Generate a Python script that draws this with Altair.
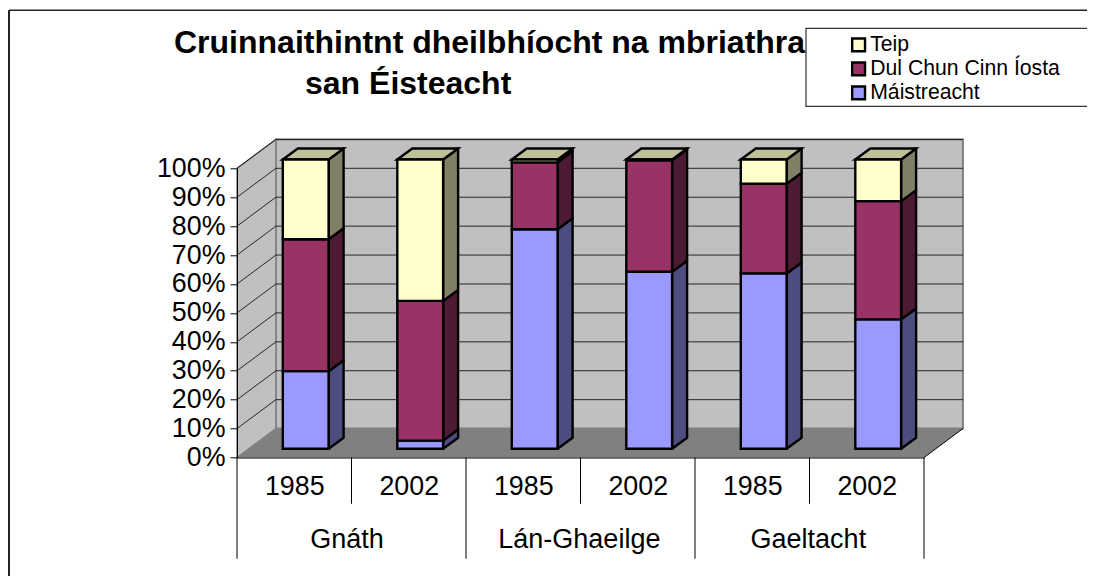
import altair as alt
import pandas as pd

FONT = "Liberation Sans"
series = ["Teip", "Dul Chun Cinn Íosta", "Máistreacht"]
front_colors = ["#FFFFCC", "#993366", "#9999FF"]
side_colors = {"Teip": "#808066", "Dul Chun Cinn Íosta": "#4D1A33", "Máistreacht": "#4D4D80"}
top_color = "#C0C099"

years = ["1985", "2002", "1985", "2002", "1985", "2002"]
groups = ["Gnáth", "Lán-Ghaeilge", "Gaeltacht"]
# cumulative upper boundaries of each stacked segment, in percent
mastery_top = [26.8, 2.8, 75.9, 61.2, 60.6, 44.7]
progress_top = [72.4, 51.1, 99.0, 99.7, 91.6, 85.6]
fail_top = [100, 100, 100, 100, 100, 100]
title_lines = ["Cruinnaithintnt dheilbhíocht na mbriathra", "san Éisteacht"]

W, H = 687, 289.2
DX, DY = 0.34, 10          # wall depth in axis units
BDX, BDY = 0.131, 3.8      # bar depth in axis units
BASE = 3.05                # bars stand this far back on the floor
BL, BW = 0.40, 0.40        # bar left edge inside a category and bar width
EDGE = 2.4

xs = alt.Scale(domain=[0, 6], nice=False, zero=False)
ys = alt.Scale(domain=[0, 100], nice=False, zero=False)
x_axis = alt.Axis(
    values=[0.5, 1.5, 2.5, 3.5, 4.5, 5.5],
    labelExpr="(datum.value * 2) % 4 == 1 ? '" + years[0] + "' : '" + years[1] + "'",
    ticks=False, grid=False, labelFont=FONT, labelFontSize=26.8, labelColor="#000000",
    labelPadding=16, domainColor="#000000", domainWidth=1, labelFlush=False, labelOverlap=False,
    title=None, zindex=1,
)
y_axis = alt.Axis(
    values=list(range(0, 101, 10)), labelExpr="datum.value + '%'",
    grid=False, ticks=True, tickColor="#000000", tickSize=7, labelFont=FONT, labelFontSize=26.8,
    labelColor="#000000", labelPadding=5, domainColor="#000000", labelOverlap=False,
    title=None, zindex=1,
)
X = alt.X("x:Q", scale=xs, axis=x_axis)
Y = alt.Y("y:Q", scale=ys, axis=y_axis)
Y2 = alt.Y2("y2:Q")


def poly(rows, **kw):
    df = pd.DataFrame(rows, columns=["x", "y", "y2", "id"])
    return alt.Chart(df).mark_area(interpolate="linear", **kw).encode(X, Y, Y2, detail="id:N")


# walls and floor
back = alt.Chart(pd.DataFrame([{"x": DX, "x2": 6 + DX, "y": DY, "y2": 100 + DY}])).mark_rect(
    fill="#C0C0C0", stroke="#808080", strokeWidth=2
).encode(X, alt.X2("x2:Q"), Y, Y2)
left = poly([[0, 0, 100, "l"], [DX, DY, 100 + DY, "l"]], fill="#C0C0C0", stroke="#808080", strokeWidth=1.5)
floor = poly([[0, 0, 0, "f"], [DX, DY, 0, "f"], [6, DY, 0, "f"], [6 + DX, DY, DY, "f"]], fill="#808080")
floor_edge = alt.Chart(pd.DataFrame([[6, 0, "e"], [6 + DX, DY, "e"]], columns=["x", "y", "id"])).mark_line(
    color="#000000", strokeWidth=1
).encode(X, Y, detail="id:N")

# gridlines running across the left wall and the back wall
grid_rows = []
for p in range(10, 101, 10):
    grid_rows += [[0, p, p], [DX, p + DY, p], [6 + DX, p + DY, p]]
grid = alt.Chart(pd.DataFrame(grid_rows, columns=["x", "y", "id"])).mark_line(
    color="#000000", strokeWidth=1, opacity=0.8
).encode(X, Y, detail="id:N")

# bars
fronts, sides, tops = [], [], []
for k in range(6):
    x0, x1 = k + BL, k + BL + BW
    bounds = [
        ("Máistreacht", 0, mastery_top[k]),
        ("Dul Chun Cinn Íosta", mastery_top[k], progress_top[k]),
        ("Teip", progress_top[k], fail_top[k]),
    ]
    for s, lo, hi in bounds:
        yl, yh = BASE + lo, BASE + hi
        fronts.append({"x": x0, "x2": x1, "y": yl, "y2": yh, "series": s})
        sid = f"{k}-{s}"
        sides += [
            {"x": x1, "y": yl, "y2": yh, "id": sid, "fill": side_colors[s]},
            {"x": x1 + BDX, "y": yl + BDY, "y2": yh + BDY, "id": sid, "fill": side_colors[s]},
        ]
    t = BASE + 100
    tops += [[x0, t, t, k], [x0 + BDX, t + BDY, t, k], [x1, t + BDY, t, k], [x1 + BDX, t + BDY, t + BDY, k]]

side_layer = alt.Chart(pd.DataFrame(sides)).mark_area(stroke="#000000", strokeWidth=EDGE, strokeJoin="round").encode(
    X, Y, Y2, alt.Fill("fill:N", scale=None), detail="id:N"
)
top_layer = poly(tops, fill=top_color, stroke="#000000", strokeWidth=EDGE)
front_layer = alt.Chart(pd.DataFrame(fronts)).mark_rect(stroke="#000000", strokeWidth=EDGE).encode(
    X, alt.X2("x2:Q"), Y, Y2,
    alt.Color(
        "series:N",
        scale=alt.Scale(domain=series, range=front_colors),
        sort=series,
        legend=alt.Legend(
            title=None, orient="none", legendX=611, legendY=-134,
            symbolType="square", symbolSize=165, symbolStrokeColor="#000000", symbolStrokeWidth=2.4,
            symbolOpacity=1, labelFont=FONT, labelFontSize=21.2, labelColor="#000000",
            rowPadding=1, labelOffset=1, labelLimit=300,
        ),
    ),
)

# category separators
sep_rows = [{"x": i, "y": 0, "y2": -35 if i % 2 == 0 else -16} for i in range(7)]
seps = alt.Chart(pd.DataFrame(sep_rows)).mark_rule(color="#000000", strokeWidth=1).encode(X, Y, Y2)
group_df = pd.DataFrame({"x": [0.96, 2.99, 4.99], "y": [-28.5] * 3, "t": groups})
group_text = alt.Chart(group_df).mark_text(font=FONT, fontSize=27, color="#000000", baseline="middle").encode(
    X, Y, text="t:N"
)

# frame, legend box and title
frame_left = alt.Chart(pd.DataFrame({"a": [1]})).mark_rule(color="#222222", strokeWidth=2).encode(
    x=alt.value(-228), y=alt.value(-158), y2=alt.value(410)
)
frame_top = alt.Chart(pd.DataFrame({"a": [1]})).mark_rule(color="#222222", strokeWidth=1.5).encode(
    x=alt.value(-228), x2=alt.value(870), y=alt.value(-158)
)
legend_box = alt.Chart(pd.DataFrame({"a": [1]})).mark_rect(fill="#FFFFFF", stroke="#333333", strokeWidth=1.2).encode(
    x=alt.value(569), x2=alt.value(880), y=alt.value(-140), y2=alt.value(-62)
)
title1 = alt.Chart(pd.DataFrame({"t": [title_lines[0]]})).mark_text(
    font=FONT, fontSize=32, fontWeight="bold", color="#000000", align="left", baseline="alphabetic"
).encode(x=alt.value(-63), y=alt.value(-115), text="t:N")
title2 = alt.Chart(pd.DataFrame({"t": [title_lines[1]]})).mark_text(
    font=FONT, fontSize=32, fontWeight="bold", color="#000000", align="left", baseline="alphabetic"
).encode(x=alt.value(68), y=alt.value(-74), text="t:N")

chart = alt.layer(
    back, left, floor, floor_edge, grid, seps, group_text,
    side_layer, top_layer, front_layer, frame_left, frame_top, title1, title2, legend_box,
).resolve_scale(x="shared", y="shared").properties(
    width=W, height=H,
    autosize=alt.AutoSizeParams(type="none"),
    padding={"left": 229, "top": 160.3, "right": 163, "bottom": 118.5},
).configure_view(stroke=None)

chart.save("out.html", embed_options={"renderer": "svg", "actions": False})
